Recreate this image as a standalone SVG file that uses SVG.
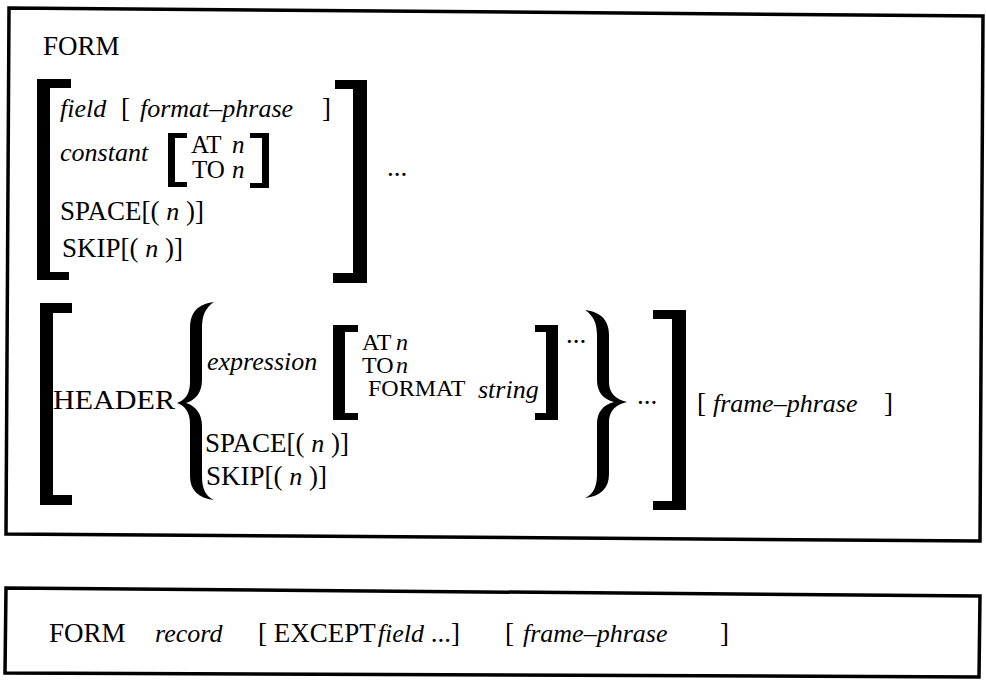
<svg xmlns="http://www.w3.org/2000/svg" width="986" height="680" viewBox="0 0 986 680" font-family="'Liberation Serif', 'Times New Roman', serif">
<style>
text { font-family: 'Liberation Serif', 'Times New Roman', serif; font-size: 27px; fill: #000; }
.i { font-style: italic; font-size: 26px; }
.s { font-size: 25px; }
.t { font-size: 24px; }
.box { fill: none; stroke: #000; stroke-width: 3.5; stroke-linejoin: miter; }
.br { fill: #000; stroke: none; }
</style>
<rect x="0" y="0" width="986" height="680" fill="#fff"/>

<g id="box1">
  <polygon class="box" points="9,8 983,16 980,541 6,534"/>
</g>

<g id="form-header">
  <text x="43" y="55">FORM</text>
</g>

<g id="field-list">
  <path class="br" d="M37 79 H71 V88 H50 V272 H69 V280 H37 Z"/>
  <path class="br" d="M335 80 H367 V283 H333 V273 H353 V89 H335 Z"/>
  <text class="i" x="60" y="117">field</text>
  <text x="121" y="117">[</text>
  <text class="i" x="140" y="117">format–phrase</text>
  <text x="322" y="117">]</text>
  <text class="i" x="60" y="161">constant</text>
  <path class="br" d="M168 133 H187 V138 H175 V182 H187 V187 H168 Z"/>
  <path class="br" d="M250 133 H269 V188 H250 V183 H262 V138 H250 Z"/>
  <text class="s" x="191" y="153">AT</text>
  <text class="i s" x="232" y="153">n</text>
  <text class="s" x="192" y="178">TO</text>
  <text class="i s" x="232" y="178">n</text>
  <text x="60" y="220">SPACE[( <tspan class="i">n</tspan> )]</text>
  <text x="62" y="257">SKIP[( <tspan class="i">n</tspan> )]</text>
  <text x="387" y="176">...</text>
</g>

<g id="header-clause">
  <path class="br" d="M40 303 H72 V313 H53 V495 H72 V505 H40 Z"/>
  <text x="53" y="409" font-size="28" textLength="122" lengthAdjust="spacingAndGlyphs">HEADER</text>
  <path class="br" d="M214 302 C198 304 190 312 190 328 L190 382 C190 394 185 400 177 403 C185 406 190 412 190 424 L190 476 C190 490 198 498 214 500 C205 496 202 488 202 476 L202 426 C202 414 196 406 186 403 C196 400 202 392 202 380 L202 328 C202 316 205 308 214 302 Z"/>
  <text class="i" x="207" y="370">expression</text>
  <path class="br" d="M333 325 H358 V332 H345 V413 H358 V420 H333 Z"/>
  <path class="br" d="M535 325 H558 V420 H535 V413 H546 V332 H535 Z"/>
  <text class="t" x="362" y="350">AT</text>
  <text class="i t" x="396" y="350">n</text>
  <text class="t" x="362" y="373">TO</text>
  <text class="i t" x="396" y="373">n</text>
  <text class="t" x="368" y="396">FORMAT</text>
  <text class="i" font-size="24" x="478" y="398">string</text>
  <text x="566" y="343">...</text>
  <text x="205" y="452">SPACE[( <tspan class="i">n</tspan> )]</text>
  <text x="206" y="485">SKIP[( <tspan class="i">n</tspan> )]</text>
  <path class="br" d="M585 310 C601 312 609 320 609 336 L609 382 C609 393 615 399 627 402 C615 405 609 411 609 422 L609 474 C609 488 601 496 585 498 C594 494 597 486 597 474 L597 424 C597 412 603 405 614 402 C603 399 597 392 597 380 L597 336 C597 324 594 316 585 310 Z"/>
  <text x="637" y="404">...</text>
  <path class="br" d="M653 310 H686 V510 H653 V501 H672 V319 H653 Z"/>
  <text x="697" y="412">[</text>
  <text class="i" x="713" y="412">frame–phrase</text>
  <text x="884" y="412">]</text>
</g>

<g id="box2">
  <polygon class="box" points="6,588 980,596 979,677 5,673"/>
  <text x="49" y="642">FORM</text>
  <text class="i" x="155" y="642">record</text>
  <text x="258" y="642">[ EXCEPT<tspan class="i" dx="2">field</tspan> ...]</text>
  <text x="505" y="642">[</text>
  <text class="i" x="523" y="642">frame–phrase</text>
  <text x="720" y="642">]</text>
</g>

<g id="connectors"></g>
</svg>
